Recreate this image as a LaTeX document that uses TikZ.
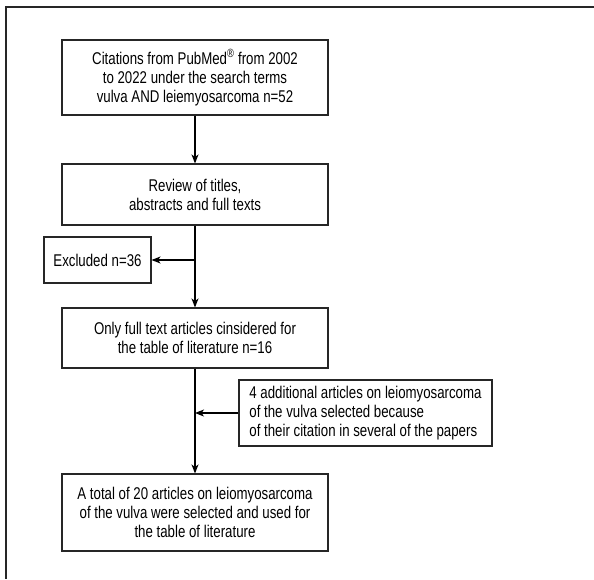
\documentclass[tikz,border=0pt]{standalone}
\usepackage{fontspec}
\setmainfont[FakeStretch=0.78]{Liberation Sans}
\usetikzlibrary{arrows.meta}
\usetikzlibrary{positioning}

\tikzset{
  box/.style={draw=black!85,line width=1.1pt,minimum width=266pt,inner sep=0pt,align=center,font=\fontsize{17}{19}\selectfont},
  flow/.style={line width=1.1pt,-{Stealth[length=9pt,width=7pt,inset=2.5pt]}}
}

\begin{document}
\begin{tikzpicture}[x=1pt,y=-1pt]
				\useasboundingbox (0,0) rectangle (594,579);
				\draw [line width=1.3pt,black!85] (594,7) -- (6,7) -- (6,579);
				\node (cite) [box,minimum height=75pt] at (195,77.5) {Citations from PubMed\textsuperscript{\textregistered} from 2002\\to 2022 under the search terms\\vulva AND leiemyosarcoma n=52};
				\node (review) [box,minimum height=61pt] at (195,194.5) {Review of titles,\\abstracts and full texts};
				\node (excl) [box,minimum width=107pt,minimum height=46pt] at (97.5,260) {Excluded n=36};
				\node (full) [box,minimum height=60pt] at (195,338) {Only full text articles cinsidered for\\the table of literature n=16};
				\node (add) [box,minimum width=253pt,minimum height=66pt,align=left] at (365.5,413) {4 additional articles on leiomyosarcoma\\of the vulva selected because\\of their citation in several of the papers};
				\node (total) [box,minimum height=77pt] at (195,512.5) {A total of 20 articles on leiomyosarcoma\\of the vulva were selected and used for\\the table of literature};
				\coordinate (split) at (review.south |- excl.east);
				\coordinate (join) at (full.south |- add.west);
				\draw [flow] (cite) -- (review);
				\draw [flow] (review) -- (full);
				\draw [flow] (split) -- (excl);
				\draw [flow] (full) -- (total);
				\draw [flow] (add) -- (join);
			\end{tikzpicture}
\end{document}
